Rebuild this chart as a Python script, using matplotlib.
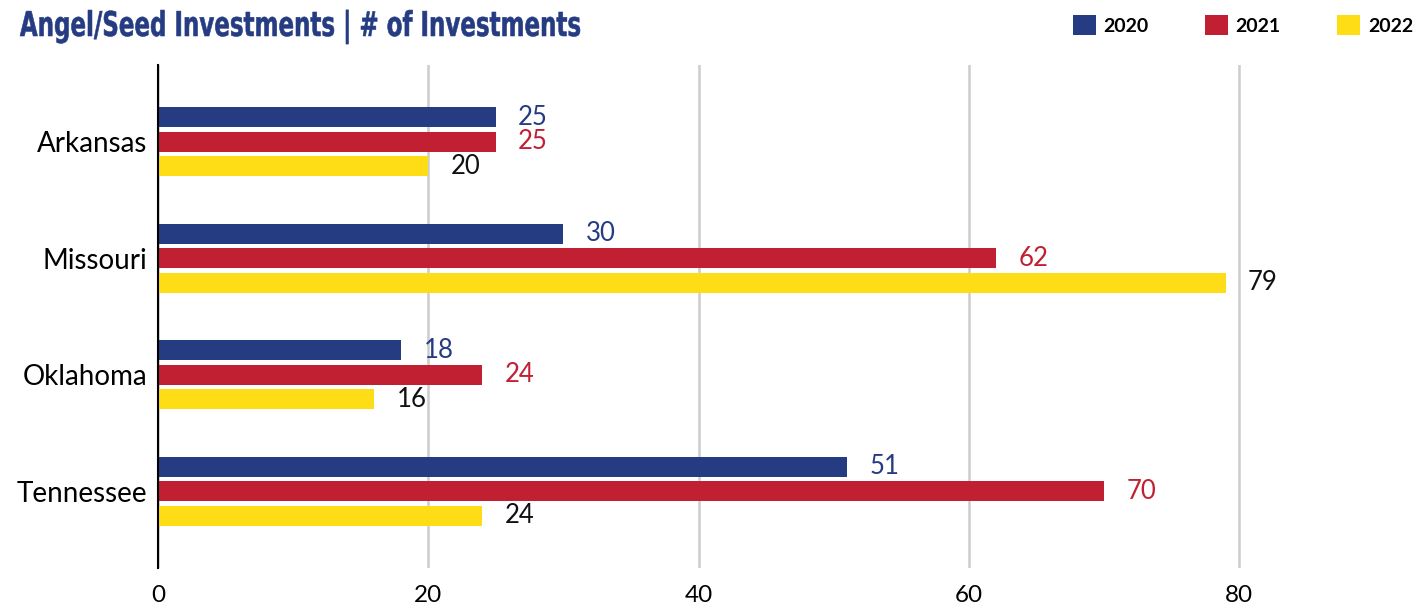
import matplotlib.pyplot as plt
from matplotlib.textpath import TextPath
from matplotlib.patches import PathPatch
from matplotlib.font_manager import FontProperties
from matplotlib.transforms import Affine2D, IdentityTransform
import numpy as np

# Data
states = ["Arkansas", "Missouri", "Oklahoma", "Tennessee"]
years = ["2020", "2021", "2022"]
inv_2020 = [25, 30, 18, 51]
inv_2021 = [25, 62, 24, 70]
inv_2022 = [20, 79, 16, 24]

colors = ["#263c82", "#c12033", "#fedd17"]
label_colors = ["#263c82", "#c12033", "#111111"]

plt.rcParams["font.family"] = ["Lato", "DejaVu Sans"]

W, H = 1415, 604
fig = plt.figure(figsize=(W / 100, H / 100), dpi=100)
ax = fig.add_axes([158 / W, 1 - 568 / H, 1 - 158 / W, (568 - 65) / H])

y = np.arange(len(states))
bar_h = 0.172
step = 0.21
series = [inv_2020, inv_2021, inv_2022]
for i, vals in enumerate(series):
    pos = y + (i - 1) * step
    ax.barh(pos, vals, height=bar_h, color=colors[i], zorder=3, label=years[i])
    for p, v in zip(pos, vals):
        ax.annotate(str(v), (v, p), xytext=(16, 0), textcoords="offset points",
                    ha="left", va="center", fontsize=18.5, color=label_colors[i])

ax.set_xlim(0, 93)
ax.set_ylim(3.66, -0.66)
ax.set_xticks([0, 20, 40, 60, 80])
ax.set_yticks(y)
ax.set_yticklabels(states, fontsize=20)
ax.tick_params(axis="x", labelsize=17.5, length=0, pad=12)
ax.tick_params(axis="y", length=0, pad=8)
ax.xaxis.grid(True, color="#cccccc", linewidth=1.8, zorder=0)
for s in ["top", "right", "bottom"]:
    ax.spines[s].set_visible(False)
ax.spines["left"].set_color("black")
ax.spines["left"].set_linewidth(1.5)
ax.spines["left"].set_zorder(4)

# condensed bold title: squeeze a bold text path horizontally
title = "Angel/Seed Investments | # of Investments"
tp = TextPath((0, 0), title, size=32, prop=FontProperties(family="DejaVu Sans", weight="bold"))
ext = tp.get_extents()
sx = (580 - 20) / ext.width
sy = 25 / 23.4  # cap height of DejaVu bold at 32px is about 23.4px
tr = Affine2D().translate(-ext.x0, 0).scale(sx, sy).translate(20, H - 36)
fig.patches.append(PathPatch(tr.transform_path(tp), facecolor="#263c82", edgecolor="#263c82",
                             linewidth=0.4, transform=IdentityTransform(), figure=fig))

fig.legend(loc="center right", bbox_to_anchor=(1.0, 1 - 25 / H), ncol=3, frameon=False,
           prop={"size": 14, "weight": "bold"}, handlelength=1.18, handleheight=1.18,
           columnspacing=2.9, handletextpad=0.4, borderaxespad=0, borderpad=0.1)

fig.savefig("out.png", dpi=100)
